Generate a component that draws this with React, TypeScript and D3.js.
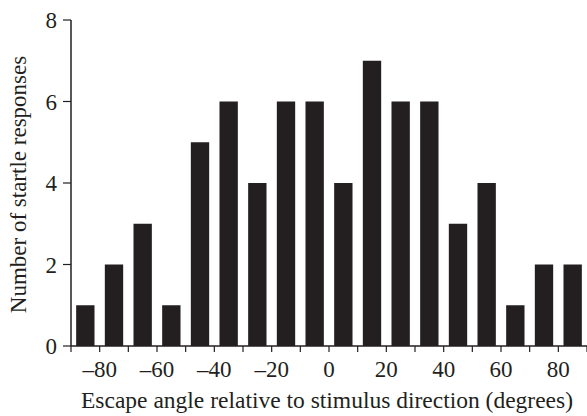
import React from "react";
import * as d3 from "d3";

const binCenters = [-85, -75, -65, -55, -45, -35, -25, -15, -5, 5, 15, 25, 35, 45, 55, 65, 75, 85];
const counts = [1, 2, 3, 1, 5, 6, 4, 6, 6, 4, 7, 6, 6, 3, 4, 1, 2, 2];
const xTicks = [-90, -80, -70, -60, -50, -40, -30, -20, -10, 0, 10, 20, 30, 40, 50, 60, 70, 80, 90];
const xTickLabels = [-80, -60, -40, -20, 0, 20, 40, 60, 80];
const yTicks = [0, 2, 4, 6, 8];

export default function App() {
  const W = 587, H = 416;
  const x = d3.scaleLinear().domain([-90, 90]).range([71, 587]);
  const y = d3.scaleLinear().domain([0, 8]).range([346, 20]);
  const barW = (x(10) - x(0)) * 0.64;
  const font = "'Liberation Serif', 'Times New Roman', serif";
  const fmt = (v: number) => (v < 0 ? "\u2013" + Math.abs(v) : String(v));
  return (
    <svg width={W} height={H} style={{ position: "absolute", left: 0, top: 0 }} fontFamily={font}>
      <rect width={W} height={H} fill="#fff" />
      {binCenters.map((c, i) => (
        <rect key={i} x={x(c) - barW / 2} y={y(counts[i])} width={barW} height={y(0) - y(counts[i])} fill="#231f20" />
      ))}
      <line x1={x(-90)} x2={x(-90)} y1={y(8)} y2={y(0)} stroke="#231f20" strokeWidth={1.5} />
      {yTicks.map((t) => (
        <g key={t}>
          <line x1={x(-90) - 8} x2={x(-90)} y1={y(t)} y2={y(t)} stroke="#231f20" strokeWidth={1.2} />
          <text x={57} y={y(t)} dy="0.35em" textAnchor="end" fontSize={23} fill="#231f20">{t}</text>
        </g>
      ))}
      <line x1={x(-90)} x2={W} y1={y(0)} y2={y(0)} stroke="#231f20" strokeWidth={1.5} />
      {xTicks.map((t) => (
        <line key={t} x1={x(t)} x2={x(t)} y1={y(0)} y2={y(0) + 6} stroke="#231f20" strokeWidth={1.2} />
      ))}
      {xTickLabels.map((t) => (
        <text key={t} x={x(t)} y={377} textAnchor="middle" fontSize={23} fill="#231f20">{fmt(t)}</text>
      ))}
      <text x={327} y={408} textAnchor="middle" fontSize={23.5} fill="#231f20">
        Escape angle relative to stimulus direction (degrees)
      </text>
      <text transform={`translate(26,184.5) rotate(-90)`} textAnchor="middle" fontSize={23} fill="#231f20">
        Number of startle responses
      </text>
    </svg>
  );
}
